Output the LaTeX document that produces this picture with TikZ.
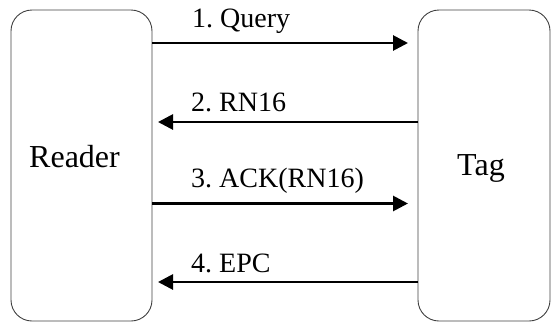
\documentclass[tikz,border=0pt]{standalone}
\usepackage{fontspec}
\setmainfont{Liberation Serif}
\usetikzlibrary{arrows.meta}
\frenchspacing
\begin{document}
\begin{tikzpicture}[x=1pt,y=-1pt,
  box/.style={draw=black!75,line width=0.9pt,rounded corners=21pt,inner sep=0pt,outer sep=0pt},
  msg/.style={line width=2.8pt,-{Triangle[length=15pt,width=15pt]}},
  lbl/.style={anchor=base west,inner sep=0pt,font=\fontsize{28}{30}\selectfont},
  big/.style={anchor=base west,inner sep=0pt,font=\fontsize{32}{34}\selectfont}]
\useasboundingbox (0,0) rectangle (551,322);
\node[box,minimum width=141pt,minimum height=311pt] (reader) at (81.5,165.5) {};
\node[box,minimum width=132pt,minimum height=311pt] (tag) at (484,165.5) {};
\node[big] (readertext) at (29,167) {Reader};
\node[big] (tagtext) at (457,175) {Tag};
\coordinate (y1) at (0,43);
\coordinate (y2) at (0,122);
\coordinate (y3) at (0,203.5);
\coordinate (y4) at (0,282);
\draw[msg,shorten >=10pt] (reader.east |- y1) -- (tag.west |- y1);
\draw[msg,shorten >=6pt] (tag.west |- y2) -- (reader.east |- y2);
\draw[msg,shorten >=10pt] (reader.east |- y3) -- (tag.west |- y3);
\draw[msg,shorten >=6pt] (tag.west |- y4) -- (reader.east |- y4);
\node[lbl] (l1) at (192,27) {1. Query};
\node[lbl] (l2) at (191,111) {2. RN16};
\node[lbl] (l3) at (191,187) {3. ACK(RN16)};
\node[lbl] (l4) at (191,272) {4. EPC};
\end{tikzpicture}
\end{document}
